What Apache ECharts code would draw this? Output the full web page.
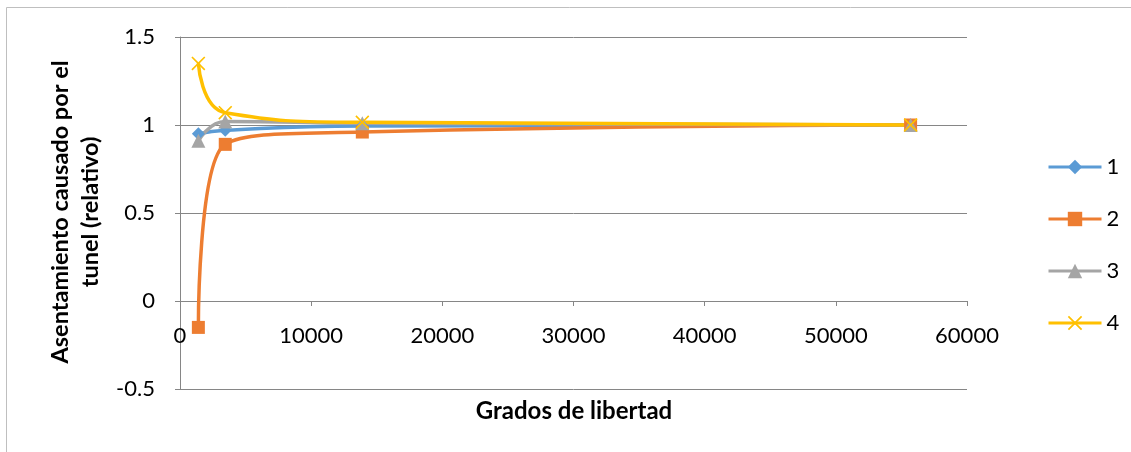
<!DOCTYPE html>
<html>
<head>
<meta charset="utf-8">
<script src="https://cdn.jsdelivr.net/npm/echarts@6/dist/echarts.min.js"></script>
<style>
  html, body { margin: 0; padding: 0; background: #ffffff; }
  #chart { width: 1131px; height: 452px; }
</style>
</head>
<body>
<div id="chart"></div>
<script>
// Degrees of freedom of each mesh
const gradosLibertad = [1400, 3450, 13900, 55700];

// Relative settlement caused by the tunnel, one list per case
const serie1 = [0.95, 0.97, 0.995, 1.0];
const serie2 = [-0.15, 0.89, 0.96, 1.0];
const serie3 = [0.91, 1.02, 1.01, 1.0];
const serie4 = [1.35, 1.07, 1.015, 1.0];

const seriesNames = ['1', '2', '3', '4'];
const seriesColors = ['#5B9BD5', '#ED7D31', '#A5A5A5', '#FFC000'];

const FONT = 'Lato, "Open Sans", sans-serif';

// X-shaped marker as a filled outline (crossed thin bars)
const xMarker = 'path://M0,1L1,0L6,5L11,0L12,1L7,6L12,11L11,12L6,7L1,12L0,11L5,6Z';

const symbols = ['diamond', 'rect', 'triangle', xMarker];
const sizes = [13, 13, 14, 14];

function pairs(values) {
  return gradosLibertad.map((x, i) => [x, values[i]]);
}

const allValues = [serie1, serie2, serie3, serie4];

const chart = echarts.init(document.getElementById('chart'));

chart.setOption({
  animation: false,
  backgroundColor: '#ffffff',
  grid: { left: 180, right: 164, top: 37, bottom: 63 },
  legend: {
    orient: 'vertical',
    left: 1042,
    top: 151,
    itemWidth: 53,
    itemHeight: 18,
    itemGap: 30,
    lineStyle: { width: 3 },
    textStyle: { fontFamily: FONT, fontSize: 22, color: '#000', lineHeight: 18 },
    data: seriesNames
  },
  xAxis: {
    type: 'value',
    min: 0,
    max: 60000,
    interval: 10000,
    // the horizontal axis sits on the zero line (0 is 88px above the -0.5 bottom edge)
    offset: -88,
    axisLine: { show: true, onZero: false, lineStyle: { color: '#868686', width: 1 } },
    axisTick: { show: true, length: 5, lineStyle: { color: '#868686' } },
    axisLabel: {
      fontFamily: FONT, fontSize: 22, color: '#000', margin: 24,
      formatter: v => String(v)
    },
    splitLine: { show: false }
  },
  yAxis: {
    type: 'value',
    min: -0.5,
    max: 1.5,
    interval: 0.5,
    axisLine: { show: true, onZero: false, lineStyle: { color: '#868686', width: 1 } },
    axisTick: { show: true, length: 5, lineStyle: { color: '#868686' } },
    axisLabel: { fontFamily: FONT, fontSize: 22, color: '#000', margin: 25 },
    splitLine: { show: true, lineStyle: { color: '#868686', width: 1 } }
  },
  graphic: [
    {
      type: 'rect',
      shape: { x: 6.5, y: 7.5, width: 1130, height: 450 },
      style: { fill: 'none', stroke: '#bfbfbf', lineWidth: 1 },
      silent: true,
      z: -10
    },
    {
      type: 'text',
      x: 574,
      y: 411,
      style: {
        text: 'Grados de libertad',
        fontFamily: FONT, fontSize: 24, fontWeight: 'bold',
        fill: '#000', align: 'center', verticalAlign: 'middle'
      }
    },
    {
      type: 'text',
      x: 75,
      y: 212,
      rotation: Math.PI / 2,
      style: {
        text: 'Asentamiento causado por el\ntunel (relativo)',
        fontFamily: FONT, fontSize: 23.5, fontWeight: 'bold', lineHeight: 30,
        fill: '#000', align: 'center', verticalAlign: 'middle'
      }
    }
  ],
  series: seriesNames.map((name, i) => ({
    name: name,
    type: 'line',
    smooth: 0.5,
    data: pairs(allValues[i]),
    symbol: symbols[i],
    symbolSize: sizes[i],
    showAllSymbol: true,
    lineStyle: { color: seriesColors[i], width: 3.5 },
    itemStyle: { color: seriesColors[i] },
    emphasis: { disabled: true }
  }))
});
</script>
</body>
</html>
